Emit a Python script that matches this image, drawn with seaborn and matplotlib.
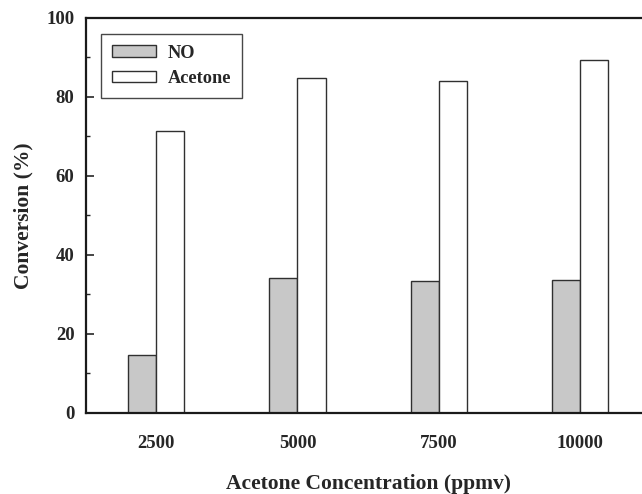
import matplotlib
matplotlib.use("Agg")
import matplotlib.pyplot as plt
from matplotlib.ticker import MultipleLocator
import pandas as pd
import seaborn as sns

# values
concentrations = ["2500", "5000", "7500", "10000"]
no_conversion = [14.6, 34.2, 33.5, 33.7]
acetone_conversion = [71.4, 84.7, 84.1, 89.4]
series_names = ["NO", "Acetone"]

df = pd.DataFrame({
    "conc": concentrations * 2,
    "conv": no_conversion + acetone_conversion,
    "series": [series_names[0]] * 4 + [series_names[1]] * 4,
})

sns.set_style("ticks")
plt.rcParams["font.family"] = ["Liberation Serif", "DejaVu Serif"]
plt.rcParams["font.weight"] = "bold"

fig = plt.figure(figsize=(6.42, 4.94), dpi=100)
ax = fig.add_axes([0.1332, 0.164, 0.8804, 0.7996])

sns.barplot(data=df, x="conc", y="conv", hue="series", order=concentrations,
            hue_order=series_names, palette={"NO": "#c8c8c8", "Acetone": "white"},
            width=0.4, edgecolor="#303030", linewidth=1.0, ax=ax)

ax.set_xlim(-0.5, 3.5)
ax.set_ylim(0, 100)
ax.yaxis.set_major_locator(MultipleLocator(20))
ax.yaxis.set_minor_locator(MultipleLocator(10))
ax.tick_params(axis="y", which="major", direction="in", length=6, width=1.2,
               labelsize=13.5, pad=8)
ax.tick_params(axis="y", which="minor", direction="in", length=3, width=1.0)
ax.tick_params(axis="x", length=0, labelsize=13.5, pad=16)

for s in ["left", "bottom", "top"]:
    ax.spines[s].set_linewidth(1.6)
    ax.spines[s].set_color("#1a1a1a")
ax.spines["right"].set_visible(False)

ax.set_xlabel("Acetone Concentration (ppmv)", fontsize=15.5, fontweight="bold", labelpad=15.5)
ax.set_ylabel("Conversion (%)", fontsize=15.5, fontweight="bold", labelpad=9)

handles, labels = ax.get_legend_handles_labels()
leg = ax.legend(handles, labels, loc="upper left", bbox_to_anchor=(0.028, 0.96),
                frameon=True, fancybox=False, edgecolor="#1a1a1a",
                prop={"weight": "bold", "size": 13.2}, handlelength=2.4,
                handleheight=0.6, handletextpad=0.6, borderpad=0.6,
                labelspacing=0.45, borderaxespad=0)
leg.get_frame().set_linewidth(1.0)

fig.savefig("out.png", dpi=100)
